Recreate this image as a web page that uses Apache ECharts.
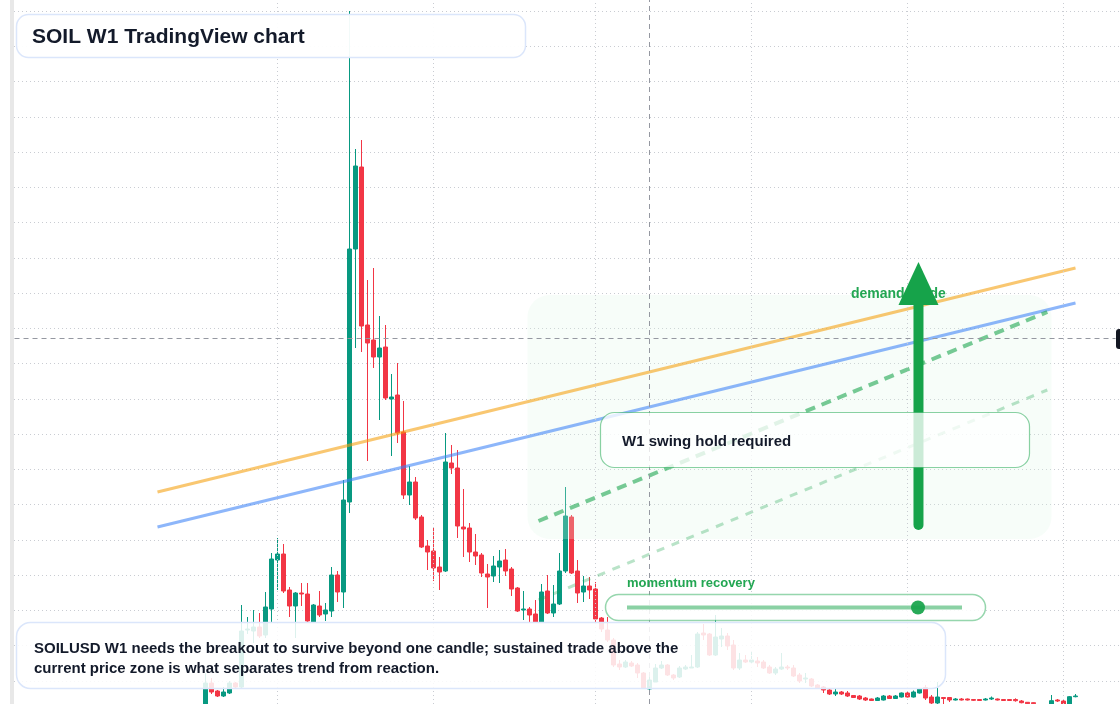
<!DOCTYPE html>
<html>
<head>
<meta charset="utf-8">
<title>SOIL W1 TradingView chart</title>
<script src="https://cdn.jsdelivr.net/npm/echarts@6/dist/echarts.min.js"></script>
<style>
  html, body { margin: 0; padding: 0; background: #fff; }
  #chart { width: 1120px; height: 704px; }
</style>
</head>
<body>
<div id="chart"></div>
<script>
// weekly candles, one row per week: [open, close, low, high]
var candles = [
  [0.034, 0.057, 0.032, 0.067], [0.057, 0.048, 0.046, 0.062], [0.049, 0.044, 0.043, 0.050],
  [0.044, 0.048, 0.043, 0.053], [0.047, 0.057, 0.046, 0.059], [0.057, 0.053, 0.052, 0.058],
  [0.053, 0.109, 0.051, 0.135], [0.110, 0.111, 0.106, 0.123], [0.109, 0.113, 0.097, 0.130],
  [0.113, 0.104, 0.102, 0.127], [0.105, 0.133, 0.102, 0.148], [0.131, 0.181, 0.118, 0.187],
  [0.180, 0.186, 0.150, 0.202], [0.186, 0.149, 0.147, 0.196], [0.150, 0.134, 0.123, 0.153],
  [0.134, 0.147, 0.102, 0.148], [0.147, 0.146, 0.134, 0.157], [0.146, 0.119, 0.118, 0.157],
  [0.118, 0.135, 0.117, 0.136], [0.134, 0.125, 0.123, 0.149], [0.126, 0.130, 0.119, 0.137],
  [0.129, 0.165, 0.123, 0.173], [0.165, 0.148, 0.138, 0.169], [0.148, 0.240, 0.132, 0.260],
  [0.238, 0.491, 0.227, 0.729], [0.491, 0.574, 0.392, 0.591], [0.573, 0.414, 0.388, 0.600],
  [0.415, 0.397, 0.279, 0.460], [0.400, 0.383, 0.372, 0.472], [0.383, 0.392, 0.320, 0.424],
  [0.393, 0.342, 0.340, 0.415], [0.341, 0.343, 0.284, 0.366], [0.345, 0.307, 0.297, 0.377],
  [0.308, 0.245, 0.241, 0.339], [0.245, 0.258, 0.235, 0.274], [0.258, 0.222, 0.220, 0.263],
  [0.223, 0.193, 0.192, 0.225], [0.194, 0.188, 0.170, 0.200], [0.189, 0.172, 0.159, 0.212],
  [0.173, 0.168, 0.150, 0.183], [0.169, 0.278, 0.168, 0.307], [0.277, 0.272, 0.266, 0.295],
  [0.272, 0.214, 0.202, 0.290], [0.213, 0.211, 0.183, 0.251], [0.212, 0.188, 0.178, 0.217],
  [0.188, 0.184, 0.175, 0.206], [0.185, 0.167, 0.163, 0.187], [0.166, 0.163, 0.132, 0.176],
  [0.164, 0.174, 0.158, 0.184], [0.173, 0.179, 0.157, 0.190], [0.180, 0.169, 0.164, 0.191],
  [0.171, 0.151, 0.144, 0.173], [0.152, 0.129, 0.128, 0.153], [0.130, 0.131, 0.120, 0.149],
  [0.131, 0.125, 0.118, 0.133], [0.126, 0.118, 0.117, 0.140], [0.118, 0.148, 0.117, 0.156],
  [0.149, 0.127, 0.126, 0.165], [0.127, 0.136, 0.123, 0.155], [0.136, 0.169, 0.135, 0.187],
  [0.169, 0.224, 0.167, 0.253], [0.223, 0.167, 0.166, 0.225], [0.169, 0.147, 0.137, 0.180],
  [0.148, 0.154, 0.138, 0.164], [0.154, 0.150, 0.141, 0.163], [0.151, 0.121, 0.118, 0.158],
  [0.122, 0.111, 0.108, 0.123], [0.110, 0.100, 0.098, 0.123], [0.100, 0.075, 0.073, 0.102],
  [0.076, 0.073, 0.070, 0.080], [0.073, 0.078, 0.072, 0.080], [0.077, 0.074, 0.073, 0.079],
  [0.075, 0.067, 0.062, 0.077], [0.067, 0.052, 0.051, 0.068], [0.051, 0.060, 0.050, 0.064],
  [0.058, 0.072, 0.058, 0.076], [0.072, 0.075, 0.071, 0.079], [0.075, 0.065, 0.064, 0.076],
  [0.065, 0.062, 0.060, 0.066], [0.063, 0.072, 0.062, 0.074], [0.071, 0.073, 0.070, 0.075],
  [0.072, 0.073, 0.072, 0.085], [0.073, 0.106, 0.072, 0.108], [0.107, 0.105, 0.100, 0.116],
  [0.106, 0.085, 0.084, 0.107], [0.085, 0.103, 0.084, 0.125], [0.101, 0.104, 0.093, 0.112],
  [0.104, 0.094, 0.090, 0.107], [0.095, 0.072, 0.070, 0.100], [0.072, 0.080, 0.070, 0.087],
  [0.080, 0.078, 0.077, 0.085], [0.078, 0.080, 0.077, 0.089], [0.079, 0.077, 0.073, 0.083],
  [0.078, 0.072, 0.071, 0.080], [0.073, 0.067, 0.066, 0.075], [0.067, 0.071, 0.065, 0.073],
  [0.071, 0.073, 0.070, 0.087], [0.073, 0.072, 0.070, 0.075], [0.072, 0.064, 0.063, 0.075],
  [0.065, 0.059, 0.057, 0.067], [0.061, 0.062, 0.057, 0.067], [0.061, 0.054, 0.053, 0.062],
  [0.055, 0.052, 0.051, 0.056], [0.053, 0.050, 0.047, 0.054], [0.050, 0.046, 0.045, 0.051],
  [0.046, 0.048, 0.044, 0.051], [0.048, 0.046, 0.045, 0.049], [0.047, 0.044, 0.043, 0.049],
  [0.0445, 0.0425, 0.042, 0.045], [0.044, 0.041, 0.040, 0.045], [0.042, 0.040, 0.039, 0.043],
  [0.041, 0.0395, 0.039, 0.0415], [0.0395, 0.042, 0.039, 0.043], [0.040, 0.044, 0.0395, 0.045],
  [0.044, 0.0415, 0.041, 0.045], [0.0415, 0.044, 0.041, 0.045], [0.043, 0.047, 0.0425, 0.0475],
  [0.047, 0.043, 0.0425, 0.048], [0.043, 0.048, 0.0425, 0.0495], [0.047, 0.051, 0.0465, 0.0515],
  [0.0525, 0.042, 0.040, 0.055], [0.043, 0.037, 0.036, 0.045], [0.037, 0.043, 0.036, 0.058],
  [0.0425, 0.0415, 0.036, 0.043], [0.0425, 0.040, 0.038, 0.043], [0.040, 0.041, 0.0395, 0.042],
  [0.041, 0.040, 0.0395, 0.042], [0.041, 0.040, 0.0395, 0.0415], [0.0405, 0.0397, 0.039, 0.041],
  [0.0405, 0.0395, 0.039, 0.041], [0.040, 0.041, 0.0395, 0.042], [0.041, 0.042, 0.040, 0.0435],
  [0.041, 0.040, 0.0395, 0.0415], [0.0405, 0.0395, 0.039, 0.041], [0.0405, 0.0395, 0.039, 0.041],
  [0.0405, 0.0393, 0.0383, 0.0417], [0.039, 0.0373, 0.0367, 0.040], [0.0377, 0.0363, 0.036, 0.038],
  [0.0373, 0.0363, 0.036, 0.0377], [0.0355, 0.031, 0.029, 0.0357], [0.030, 0.035, 0.028, 0.0355],
  [0.034, 0.0393, 0.033, 0.045], [0.040, 0.039, 0.038, 0.041], [0.039, 0.035, 0.034, 0.040],
  [0.034, 0.0433, 0.033, 0.044], [0.0433, 0.044, 0.0427, 0.046]
];

// time grid (week index) and price levels
var timeTicks = [12, 38, 65, 91, 117, 143];
var lastPrice = 0.043;
var crossWeek = 74;
var crossPrice = 0.402;

// drawn lines: [week, price] end points
var orangeTrend = [[-8, 0.248], [145, 0.472]];
var blueTrend = [[-8, 0.213], [145, 0.437]];
var swingPath = [[55.5, 0.219], [140.3, 0.428]];
var supportPath = [[55.5, 0.140], [140.3, 0.350]];
// demand zone: [weekFrom, priceTop, weekTo, priceBottom]
var demandZone = [53.67, 0.445, 141, 0.201];
// arrow: [week, priceFrom, priceTo]
var demandArrow = [118.83, 0.210, 0.478];

var GREEN = '#16a34a';
var FONT = '"Liberation Sans", Arial, sans-serif';

var rows = candles.map(function (c, i) { return [i, c[0], c[1], c[2], c[3]]; });

var chart = echarts.init(document.getElementById('chart'));

function seg(points, z, style) {
  return {
    type: 'line', xAxisIndex: 1, yAxisIndex: 1, data: points, z: z,
    showSymbol: false, symbol: 'none', silent: true, clip: false,
    lineStyle: style
  };
}

var option = {
  animation: false,
  backgroundColor: '#ffffff',
  grid: [
    { left: 14, right: 0, top: 11, bottom: 23.2 },
    { left: 0, right: 0, top: 0, bottom: 0 }
  ],
  xAxis: [
    { type: 'value', gridIndex: 0, show: false, min: 0, max: 1 },
    { type: 'value', gridIndex: 1, show: false, min: -34.25, max: 152.4167 }
  ],
  yAxis: [
    {
      type: 'value', gridIndex: 0, min: 0.0592, max: 0.72895, interval: 0.03525,
      axisLine: { show: false }, axisTick: { show: false }, axisLabel: { show: false },
      splitLine: { show: true, lineStyle: { color: '#c9ccd2', width: 1, type: [1, 3] } }
    },
    { type: 'value', gridIndex: 1, show: false, min: 0.036, max: 0.740 }
  ],
  series: [
    {
      // time grid lines
      type: 'line', xAxisIndex: 1, yAxisIndex: 1, data: [], z: 1, silent: true,
      markLine: {
        silent: true, symbol: 'none', label: { show: false },
        lineStyle: { color: '#c9ccd2', width: 1, type: [1, 3] },
        data: timeTicks.map(function (t) { return { xAxis: t }; })
      }
    },
    {
      type: 'candlestick', name: 'SOILUSD', xAxisIndex: 1, yAxisIndex: 1,
      dimensions: ['week', 'open', 'close', 'low', 'high'],
      encode: { x: 'week', y: ['open', 'close', 'low', 'high'] },
      data: rows, barWidth: 5, z: 2, clip: false,
      itemStyle: {
        color: '#089981', color0: '#f23645',
        borderColor: '#089981', borderColor0: '#f23645', borderWidth: 1
      },
      markLine: {
        silent: true, symbol: 'none', label: { show: false },
        lineStyle: { color: '#089981', width: 1.5, type: [2, 3] },
        data: [[{ coord: [-31.83, lastPrice] }, { coord: [152.5, lastPrice] }]]
      }
    },
    {
      type: 'custom', name: 'demand zone', xAxisIndex: 1, yAxisIndex: 1, z: 3, silent: true,
      data: [demandZone], encode: { x: [0, 2], y: [1, 3] },
      renderItem: function (params, api) {
        var a = api.coord([api.value(0), api.value(1)]);
        var b = api.coord([api.value(2), api.value(3)]);
        return {
          type: 'rect',
          shape: { x: a[0], y: a[1], width: b[0] - a[0], height: b[1] - a[1], r: 22 },
          style: { fill: 'rgba(222,245,229,0.24)' }
        };
      }
    },
    seg(orangeTrend, 4, { color: '#f59e0b', width: 3, opacity: 0.58 }),
    seg(blueTrend, 4, { color: '#3b82f6', width: 3, opacity: 0.58 }),
    seg(swingPath, 4, { color: GREEN, width: 4, opacity: 0.58, type: [10, 7] }),
    seg(supportPath, 4, { color: GREEN, width: 3, opacity: 0.3, type: [8, 8] }),
    {
      type: 'custom', name: 'demand arrow', xAxisIndex: 1, yAxisIndex: 1, z: 6, silent: true,
      data: [demandArrow], encode: { x: 0, y: [1, 2] },
      renderItem: function (params, api) {
        var base = api.coord([api.value(0), api.value(1)]);
        var tip = api.coord([api.value(0), api.value(2)]);
        var headLen = 43, headHalf = 20, shaft = 10;
        return {
          type: 'group',
          children: [
            {
              type: 'rect',
              shape: { x: base[0] - shaft / 2, y: tip[1] + headLen - 1, width: shaft,
                height: base[1] - tip[1] - headLen + 1, r: [0, 0, 5, 5] },
              style: { fill: GREEN }
            },
            {
              type: 'polygon',
              shape: { points: [[tip[0], tip[1]], [tip[0] - headHalf, tip[1] + headLen], [tip[0] + headHalf, tip[1] + headLen]] },
              style: { fill: GREEN }
            }
          ]
        };
      }
    },
    {
      // crosshair
      type: 'line', xAxisIndex: 1, yAxisIndex: 1, data: [], z: 30, silent: true,
      markLine: {
        silent: true, symbol: 'none', label: { show: false },
        lineStyle: { color: '#9598a1', width: 1, type: [5, 4] },
        data: [
          { xAxis: crossWeek },
          [{ coord: [-31.83, crossPrice] }, { coord: [151.67, crossPrice] }]
        ]
      }
    }
  ],
  graphic: [
    { type: 'rect', z: 1, silent: true, shape: { x: 10, y: 0, width: 4, height: 704 }, style: { fill: '#e8e8e8' } },
    { type: 'rect', z: 20, silent: true, shape: { x: 1116, y: 329, width: 20, height: 20, r: 3 }, style: { fill: '#131722' } },
    { type: 'text', z: 5, silent: true, x: 851, y: 294,
      style: { text: 'demand guide', font: 'bold 14px ' + FONT, fill: '#22a652', verticalAlign: 'middle' } },

    { type: 'rect', z: 20, silent: true, shape: { x: 16.5, y: 14.5, width: 509, height: 43, r: 12 },
      style: { fill: 'rgba(255,255,255,0.95)', stroke: '#dbe6fb', lineWidth: 1.5 } },
    { type: 'text', z: 21, silent: true, x: 32, y: 37,
      style: { text: 'SOIL W1 TradingView chart', font: 'bold 21px ' + FONT, fill: '#131a2a', verticalAlign: 'middle' } },

    { type: 'rect', z: 20, silent: true, shape: { x: 600.5, y: 412.5, width: 429, height: 55, r: 14 },
      style: { fill: 'rgba(255,255,255,0.78)', stroke: 'rgba(22,163,74,0.5)', lineWidth: 1.2 } },
    { type: 'text', z: 21, silent: true, x: 622, y: 442,
      style: { text: 'W1 swing hold required', font: 'bold 15px ' + FONT, fill: '#131a2a', verticalAlign: 'middle' } },

    { type: 'text', z: 21, silent: true, x: 627, y: 583,
      style: { text: 'momentum recovery', font: 'bold 13px ' + FONT, fill: '#22a652', verticalAlign: 'middle' } },
    { type: 'rect', z: 20, silent: true, shape: { x: 605.5, y: 594.5, width: 380, height: 26, r: 13 },
      style: { fill: 'rgba(255,255,255,0.85)', stroke: 'rgba(22,163,74,0.45)', lineWidth: 1.5 } },
    { type: 'line', z: 21, silent: true, shape: { x1: 627, y1: 607.5, x2: 962, y2: 607.5 },
      style: { stroke: 'rgba(22,163,74,0.5)', lineWidth: 4 } },
    { type: 'circle', z: 22, silent: true, shape: { cx: 918, cy: 607.5, r: 7 },
      style: { fill: 'rgba(22,163,74,0.92)' } },

    { type: 'rect', z: 20, silent: true, shape: { x: 16.5, y: 622.5, width: 929, height: 66, r: 14 },
      style: { fill: 'rgba(255,255,255,0.86)', stroke: '#dbe6fb', lineWidth: 1.5 } },
    { type: 'text', z: 21, silent: true, x: 34, y: 649,
      style: { text: 'SOILUSD W1 needs the breakout to survive beyond one candle; sustained trade above the',
        font: 'bold 15px ' + FONT, fill: '#131a2a', verticalAlign: 'middle' } },
    { type: 'text', z: 21, silent: true, x: 34, y: 669,
      style: { text: 'current price zone is what separates trend from reaction.',
        font: 'bold 15px ' + FONT, fill: '#131a2a', verticalAlign: 'middle' } }
  ]
};

chart.setOption(option);
</script>
</body>
</html>
